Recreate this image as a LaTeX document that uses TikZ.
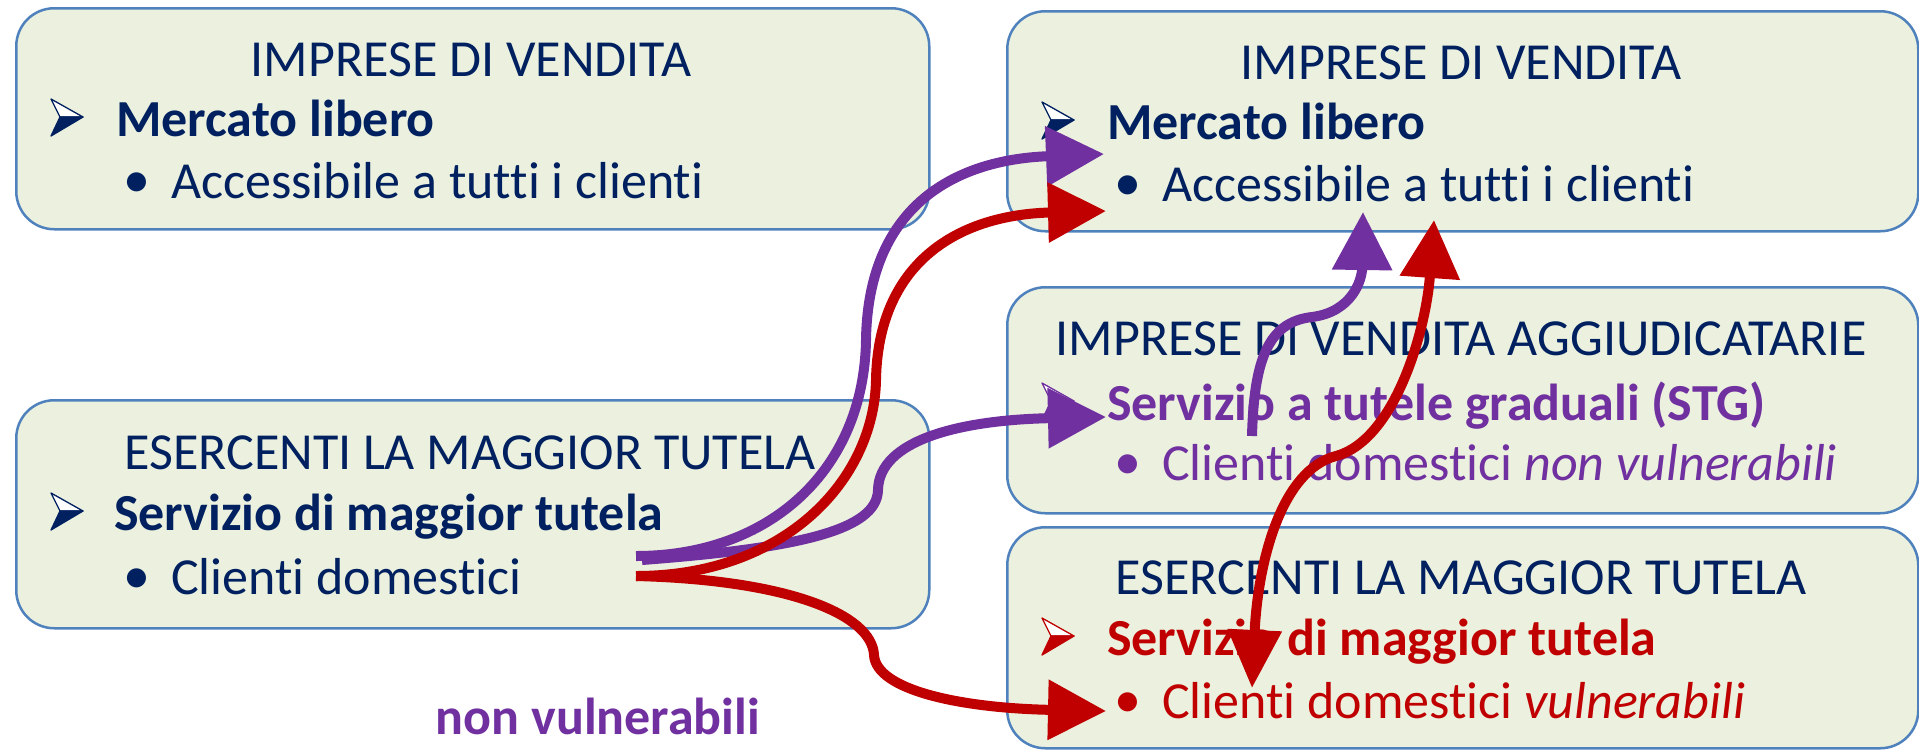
\documentclass[tikz,border=0pt]{standalone}
\usepackage{fontspec}
\setmainfont{Carlito}[Ligatures={NoCommon}]
\usetikzlibrary{arrows.meta}

\definecolor{boxfill}{HTML}{EBF1DE}
\definecolor{boxline}{HTML}{4F81BD}
\definecolor{navy}{HTML}{002060}
\definecolor{stgpurple}{HTML}{7030A0}
\definecolor{mtred}{HTML}{C00000}

\begin{document}
\begin{tikzpicture}[
    x=1pt, y=-1pt,
    box/.style={draw=boxline, line width=2.5pt, fill=boxfill, rounded corners=38pt, anchor=north west, inner sep=0pt},
    boxtitle/.style={anchor=base, inner sep=0pt, text=navy, font=\fontsize{52}{62}\selectfont},
    itemline/.style={anchor=base west, inner sep=0pt, font=\fontsize{52}{62}\selectfont},
    headline/.style={itemline, font=\fontsize{52}{62}\selectfont\bfseries},
    dot/.style={anchor=base, inner sep=0pt, font=\fontsize{54}{54}\selectfont},
    flowarrow/.style={line width=10pt, -{Triangle[length=58pt, width=58pt]}},
    pics/arrowmark/.style={code={
        \filldraw[fill=white, draw=#1, line width=1.3pt, line join=round] (0,-18) -- (32,0) -- (9,0) -- cycle;
        \filldraw[fill=#1, draw=#1, line width=1.3pt, line join=round] (9,0) -- (32,0) -- (0,19) -- cycle;
    }},
]
\useasboundingbox (0,0) rectangle (1919,750);

% Boxes
\node[box, minimum width=913pt, minimum height=221pt] (boxA) at (15,7) {};
\node[box, minimum width=911pt, minimum height=220pt] (boxB) at (1006,10) {};
\node[box, minimum width=911pt, minimum height=226pt] (boxC) at (1006,286) {};
\node[box, minimum width=911pt, minimum height=221pt] (boxD) at (1006,526) {};
\node[box, minimum width=913pt, minimum height=228pt] (boxE) at (15,399) {};

% Top left
\node[boxtitle] (titleA) at (471,76) {IMPRESE DI VENDITA};
\pic (markA) at (51,117) {arrowmark=navy};
\node[headline, text=navy] (mercatoA) at (116,136) {Mercato libero};
\node[dot, text=navy] (dotA) at (137,197) {•};
\node[itemline, text=navy] (accessA) at (171,198) {Accessibile a tutti i clienti};

% Top right
\node[boxtitle] (titleB) at (1461,79) {IMPRESE DI VENDITA};
\pic (markB) at (1042,120) {arrowmark=navy};
\node[headline, text=navy] (mercatoB) at (1107,139) {Mercato libero};
\node[dot, text=navy] (dotB) at (1128,200) {•};
\node[itemline, text=navy] (accessB) at (1162,201) {Accessibile a tutti i clienti};

% Middle right
\node[boxtitle] (titleC) at (1461,355) {IMPRESE DI VENDITA AGGIUDICATARIE};
\pic (markC) at (1042,401) {arrowmark=stgpurple};
\node[headline, text=stgpurple] (stgC) at (1107,420) {Servizio a tutele graduali (STG)};
\node[dot, text=stgpurple] (dotC) at (1128,479) {•};
\node[itemline, text=stgpurple] (clientiC) at (1162,480) {Clienti domestici \textit{non vulnerabili}};

% Bottom right
\node[boxtitle] (titleD) at (1461,594) {ESERCENTI LA MAGGIOR TUTELA};
\pic (markD) at (1042,636) {arrowmark=mtred};
\node[headline, text=mtred] (tutelaD) at (1107,655) {Servizio di maggior tutela};
\node[dot, text=mtred] (dotD) at (1128,717) {•};
\node[itemline, text=mtred] (clientiD) at (1162,718) {Clienti domestici \textit{vulnerabili}};

% Middle left
\node[boxtitle] (titleE) at (470,469) {ESERCENTI LA MAGGIOR TUTELA};
\pic (markE) at (51,511) {arrowmark=navy};
\node[headline, text=navy] (tutelaE) at (114,530) {Servizio di maggior tutela};
\node[dot, text=navy] (dotE) at (137,593) {•};
\node[itemline, text=navy] (clientiE) at (171,594) {Clienti domestici};

\node[headline, anchor=base, text=stgpurple] (nonvuln) at (598,734) {non vulnerabili};

% Edges
\coordinate (fromP) at (636,556);
\coordinate (fromP2) at (642,560);
\coordinate (fromR) at (636,576);
\coordinate (toMercatoP) at (1104,154);
\coordinate (toMercatoR) at (1106,211);
\coordinate (toStg) at (1106,417);
\coordinate (toVuln) at (1106,711);
\coordinate (fromStg) at (1252,436);
\coordinate (toAccessP) at (1363,212);
\coordinate (vulnTip) at (1252,688);
\coordinate (toAccessR) at (1434,220);

\draw[flowarrow, stgpurple] (fromP) .. controls (770,556) and (864,470) .. (866,340)
    .. controls (868,210) and (950,160) .. (toMercatoP);
\draw[flowarrow, stgpurple] (fromP2) .. controls (800,548) and (877,530) .. (878,490)
    .. controls (879,440) and (960,420) .. (toStg);
\draw[flowarrow, stgpurple] (fromStg) .. controls (1254,360) and (1268,322) .. (1312,317)
    .. controls (1352,312) and (1362,280) .. (toAccessP);
\draw[flowarrow, mtred] (fromR) .. controls (785,576) and (874,480) .. (876,380)
    .. controls (878,265) and (955,215) .. (toMercatoR);
\draw[flowarrow, mtred] (fromR) .. controls (790,580) and (872,615) .. (874,655)
    .. controls (876,690) and (960,708) .. (toVuln);
\draw[flowarrow, mtred, {Triangle[length=58pt, width=52pt]}-{Triangle[length=58pt, width=58pt]}] (vulnTip) .. controls (1258,560) and (1282,470) .. (1336,456)
    .. controls (1395,440) and (1426,330) .. (toAccessR);

\end{tikzpicture}
\end{document}
